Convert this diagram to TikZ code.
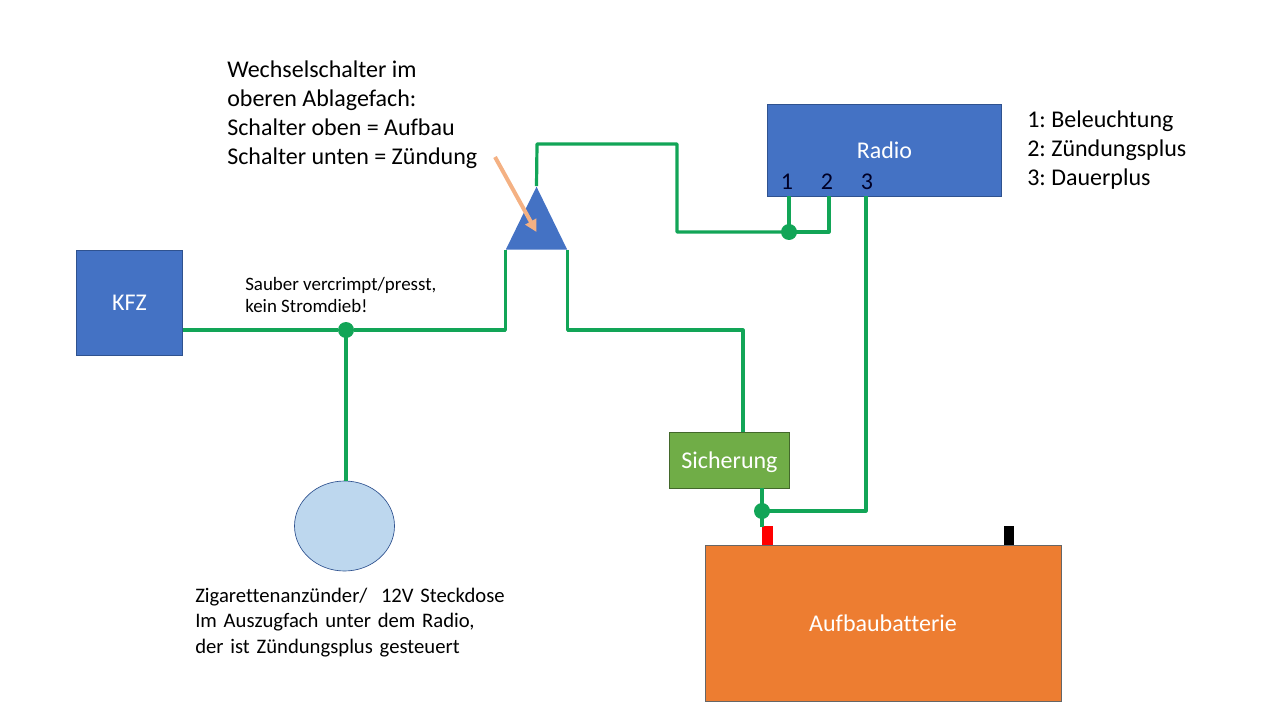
\documentclass[tikz,border=0pt]{standalone}
\usepackage{xcolor}
\usepackage{fontspec}
\setmainfont[Ligatures=NoCommon]{Carlito}
\newfontfamily\socketfont[Ligatures=NoCommon,WordSpace=1.45]{Carlito}
\usetikzlibrary{calc, arrows.meta, positioning, shapes.geometric}
\definecolor{boxblue}{HTML}{4472C4}
\definecolor{boxgreen}{HTML}{70AD47}
\definecolor{boxorange}{HTML}{ED7D31}
\definecolor{socketblue}{HTML}{BDD7EE}
\definecolor{wiregreen}{HTML}{12A557}
\definecolor{pointerpeach}{HTML}{F4B183}
\definecolor{edgeblue}{HTML}{2F528F}

\begin{document}
\frenchspacing
\begin{tikzpicture}[
    x=0.75pt, y=-0.75pt,
    every node/.style={font=\fontsize{18}{21.7}\selectfont},
    box/.style={draw=edgeblue, line width=0.5pt, inner sep=0pt, text=white, align=center},
    wire/.style={draw=wiregreen, line width=2.4pt, line join=round},
    joint/.style={circle, fill=wiregreen, inner sep=0pt, minimum size=12pt},
    note/.style={align=left, inner sep=0pt, anchor=north west, text=black},
    smallnote/.style={note, font=\fontsize{14.2}{16.5}\selectfont},
    pin/.style={inner sep=0pt, text=black!85!blue},
    terminal/.style={inner sep=0pt, minimum width=8pt, minimum height=14pt},
  ]
  \useasboundingbox (0,0) rectangle (1280,720);

  \node[box, fill=boxblue, minimum width=79.5pt, minimum height=78.75pt] (kfz) at (129.5,302.5) {KFZ};
  \node[box, fill=boxblue, minimum width=175.5pt, minimum height=69pt] (radio) at (884.5,150) {Radio};
  \node[box, fill=boxgreen, minimum width=90pt, minimum height=42pt, draw=boxgreen!60!black, text depth=0pt] (fuse) at (729.5,460) {Sicherung};
  \node[box, fill=boxorange, minimum width=267pt, minimum height=117pt, draw=black!60] (battery) at (883,623) {Aufbaubatterie};
  \node[draw=edgeblue, line width=0.5pt, fill=socketblue, ellipse, inner sep=0pt, minimum width=75pt, minimum height=67.5pt] (socket) at (344.5,526) {};
  \node[draw=none, fill=boxblue, isosceles triangle, shape border rotate=90, isosceles triangle apex angle=52,
        inner sep=0pt, minimum height=47.25pt] (switch) at (536.5,230.5) {};

  \node[terminal, fill=red, anchor=south] (plus) at (767.5,545) {};
  \node[terminal, fill=black, anchor=south] (minus) at (1009,545) {};

  \node[pin] (pin1) at (787,182) {1};
  \node[pin] (pin2) at (827,182) {2};
  \node[pin] (pin3) at (867,182) {3};

  \node[joint] (j1) at (346,330) {};
  \node[joint] (j2) at (789,232) {};
  \node[joint] (j3) at (762,511) {};

  % wiring
  \draw[wire] (kfz.east |- j1) -- (j1) -- (switch.left corner |- j1) -- (switch.left corner);
  \draw[wire] (j1.center) -- (j1.center |- socket.north);
  \draw[wire] (switch.right corner) -- (switch.right corner |- j1) -- (743,330) -- (fuse.north -| 743,0);
  \draw[wire] (switch.apex) -- (537,144) -- (677,144) -- (677,232) -- (j2.center);
  \draw[wire] (j2.center) -- (829,232) -- (829,196);
  \draw[wire] (j2.center) -- (789,196);
  \draw[wire] (762,488) -- (j3.center) -- (762,527);
  \draw[wire] (j3.center) -- (866,511) -- (866,196);

  % pointer onto the switch
  \coordinate (pointer) at (495,157);
  \draw[pointerpeach, line width=3pt, -{Triangle[length=9pt,width=9pt]}] (pointer) -- (switch.center |- 0,232);

  \node[note] (switchnote) at (227,61) {Wechselschalter im\\oberen Ablagefach:\\Schalter oben = Aufbau\\Schalter unten = Zündung};
  \node[note] (pinnote) at (1027,111) {1: Beleuchtung\\2: Zündungsplus\\3: Dauerplus};
  \node[smallnote] (crimpnote) at (245,277) {Sauber vercrimpt/presst,\\kein Stromdieb!};
  \node[note, font=\socketfont\fontsize{15.5}{19}\selectfont] (socketnote) at (195,588) {Zigarettenanzünder/\ \ 12V Steckdose\\Im Auszugfach unter dem Radio,\\der ist Zündungsplus gesteuert};
\end{tikzpicture}
\end{document}
